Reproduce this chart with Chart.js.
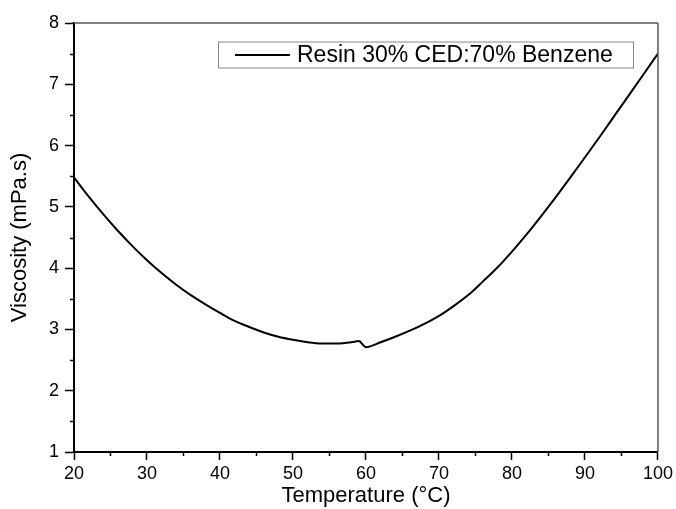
<!DOCTYPE html>
<html><head><meta charset="utf-8">
<script src="https://cdn.jsdelivr.net/npm/chart.js@4.4.1/dist/chart.umd.min.js"></script>
<style>html,body{margin:0;padding:0;background:#fff;} #wrap{width:676px;height:509px;position:relative;}</style>
</head><body><div id="wrap"><canvas id="c" width="676" height="509"></canvas></div>
<script>
const temperature = [20,22,24,26,28,30,32,34,36,38,40,42,44,46,48,50,52,54,56,58,59,60,62,64,66,68,70,72,74,76,78,80,82,84,86,88,90,92,94,96,98,100];
const viscosity   = [5.48,5.17,4.88,4.61,4.36,4.13,3.92,3.73,3.56,3.41,3.27,3.14,3.04,2.95,2.88,2.83,2.79,2.77,2.77,2.79,2.81,2.71,2.79,2.88,2.98,3.09,3.22,3.38,3.56,3.78,4.01,4.27,4.55,4.85,5.16,5.48,5.81,6.14,6.48,6.82,7.16,7.50];
const xTickValues = [20,30,40,50,60,70,80,90,100];
const yTickValues = [1,2,3,4,5,6,7,8];
const xMinorTicks = [25,35,45,55,65,75,85,95];
const yMinorTicks = [1.5,2.5,3.5,4.5,5.5,6.5,7.5];
const seriesLabel = 'Resin 30% CED:70% Benzene';
const xTitle = 'Temperature (°C)';
const yTitle = 'Viscosity (mPa.s)';

const FONT = "'Liberation Sans', Arial, sans-serif";

const framePlugin = {
  id: 'frame',
  afterDraw(chart) {
    const ctx = chart.ctx, a = chart.chartArea;
    const xs = chart.scales.x, ys = chart.scales.y;
    ctx.save();
    ctx.strokeStyle = '#555';
    ctx.lineWidth = 1.5;
    ctx.beginPath();
    ctx.moveTo(a.left, a.top); ctx.lineTo(a.right, a.top);
    ctx.moveTo(a.right, a.top); ctx.lineTo(a.right, a.bottom);
    ctx.stroke();
    ctx.strokeStyle = '#000';
    ctx.lineWidth = 1.5;
    ctx.beginPath();
    xMinorTicks.forEach(v => {
      const px = Math.round(xs.getPixelForValue(v)) + 0.5;
      ctx.moveTo(px, a.bottom); ctx.lineTo(px, a.bottom + 4);
    });
    yMinorTicks.forEach(v => {
      const py = Math.round(ys.getPixelForValue(v)) + 0.5;
      ctx.moveTo(a.left, py); ctx.lineTo(a.left - 4, py);
    });
    ctx.stroke();
    const ds = chart.data.datasets[0];
    const bx = 218, by = 41.5, bw = 415, bh = 26;
    ctx.fillStyle = '#fff';
    ctx.fillRect(bx, by, bw, bh);
    ctx.strokeStyle = '#888';
    ctx.lineWidth = 1;
    ctx.strokeRect(bx + 0.5, by + 0.5, bw, bh);
    ctx.strokeStyle = ds.borderColor;
    ctx.lineWidth = 2;
    ctx.beginPath();
    ctx.moveTo(235, 55); ctx.lineTo(290, 55);
    ctx.stroke();
    ctx.fillStyle = '#000';
    ctx.font = '23px ' + FONT;
    ctx.textBaseline = 'middle';
    ctx.textAlign = 'left';
    ctx.fillText(ds.label, 297, 55.5);
    ctx.restore();
  }
};

new Chart(document.getElementById('c'), {
  type: 'line',
  data: {
    datasets: [{
      label: seriesLabel,
      data: temperature.map((t, i) => ({x: t, y: viscosity[i]})),
      borderColor: '#000',
      borderWidth: 2,
      pointRadius: 0,
      fill: false,
      cubicInterpolationMode: 'monotone'
    }]
  },
  options: {
    responsive: false,
    devicePixelRatio: 1,
    animation: false,
    layout: { padding: { left: 0, right: 18, top: 23, bottom: 0 } },
    plugins: { legend: { display: false }, tooltip: { enabled: false } },
    scales: {
      x: {
        type: 'linear', min: 20, max: 100,
        afterBuildTicks: s => { s.ticks = xTickValues.map(v => ({value: v})); },
        afterFit: s => { s.height = 57; },
        ticks: { color: '#000', font: { size: 18, family: FONT }, padding: 3, maxRotation: 0 },
        grid: { drawOnChartArea: false, drawTicks: true, tickLength: 8, tickColor: '#000', tickWidth: 1.5 },
        border: { color: '#000', width: 2 },
        title: { display: true, text: xTitle, color: '#000', font: { size: 22, family: FONT }, padding: { top: -2, bottom: 0 } }
      },
      y: {
        type: 'linear', min: 1, max: 8,
        afterBuildTicks: s => { s.ticks = yTickValues.map(v => ({value: v})); },
        afterFit: s => { s.width = 74; },
        ticks: { color: '#000', font: { size: 18, family: FONT }, padding: 6 },
        grid: { drawOnChartArea: false, drawTicks: true, tickLength: 9, tickColor: '#000', tickWidth: 1.5 },
        border: { color: '#000', width: 2 },
        title: { display: true, text: yTitle, color: '#000', font: { size: 22, family: FONT }, padding: { top: 7, bottom: 0 } }
      }
    }
  },
  plugins: [framePlugin]
});
</script></body></html>
